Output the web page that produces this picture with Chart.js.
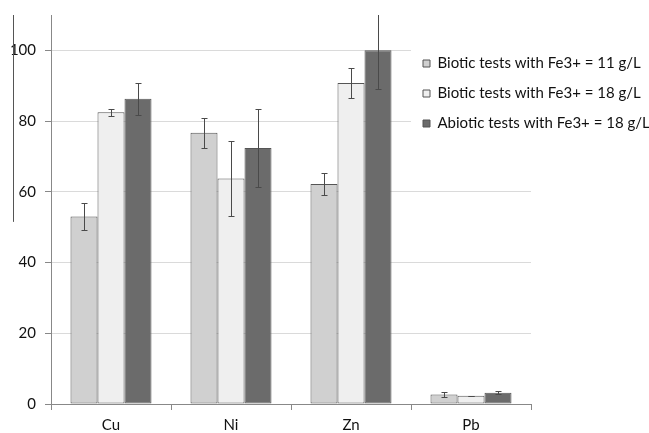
<!DOCTYPE html>
<html>
<head>
<meta charset="utf-8">
<script src="https://cdn.jsdelivr.net/npm/chart.js@4/dist/chart.umd.min.js"></script>
<style>
  html, body { margin: 0; padding: 0; background: #fff; }
  #wrap { position: relative; width: 649px; height: 433px; }
</style>
</head>
<body>
<div id="wrap"><canvas id="chart" width="649" height="433"></canvas></div>
<script>
  "use strict";

  const categories = ["Cu", "Ni", "Zn", "Pb"];
  const seriesLabels = [
    "Biotic tests with Fe3+ = 11 g/L",
    "Biotic tests with Fe3+ = 18 g/L",
    "Abiotic tests with Fe3+ = 18 g/L"
  ];
  const biotic11 = [53.0, 76.7, 62.2, 2.7];
  const biotic11Err = [3.8, 4.2, 3.2, 0.7];
  const biotic18 = [82.5, 63.8, 90.8, 2.3];
  const biotic18Err = [1.0, 10.7, 4.2, 0.1];
  const abiotic18 = [86.3, 72.4, 100.0, 3.2];
  const abiotic18Err = [4.6, 10.9, 11.0, 0.45];
  const yTicks = [0, 20, 40, 60, 80, 100];
  const yMax = 110;

  const fills = ["#d0d0d0", "#efefef", "#6b6b6b"];
  const errors = [biotic11Err, biotic18Err, abiotic18Err];
  const font = "Lato, 'Open Sans', sans-serif";

  // error bars drawn on top of the bars, clipped to the plot
  const errorBars = {
    id: "errorBars",
    afterDatasetsDraw(chart) {
      const { ctx, chartArea } = chart;
      const y = chart.scales.y;
      ctx.save();
      ctx.beginPath();
      ctx.rect(chartArea.left, chartArea.top, chartArea.right - chartArea.left, chartArea.bottom - chartArea.top);
      ctx.clip();
      ctx.strokeStyle = "#4a4a4a";
      ctx.lineWidth = 1;
      chart.data.datasets.forEach((ds, di) => {
        const meta = chart.getDatasetMeta(di);
        meta.data.forEach((bar, i) => {
          const err = errors[di][i];
          const x = Math.round(bar.x) + 0.5;
          const top = Math.round(y.getPixelForValue(ds.data[i] + err)) + 0.5;
          const bottom = Math.round(y.getPixelForValue(ds.data[i] - err)) + 0.5;
          ctx.beginPath();
          ctx.moveTo(x, top); ctx.lineTo(x, bottom);
          ctx.moveTo(x - 3, top); ctx.lineTo(x + 3, top);
          ctx.moveTo(x - 3, bottom); ctx.lineTo(x + 3, bottom);
          ctx.stroke();
        });
      });
      ctx.restore();
    }
  };

  // legend sits over the top right of the plot, on a white box
  const legendBox = {
    id: "legendBox",
    afterLayout(chart) {
      const lg = chart.legend;
      const w = lg.width, h = lg.height;
      lg.left = 408; lg.top = 41;
      lg.right = lg.left + w; lg.bottom = lg.top + h;
    },
    afterDraw(chart) {
      const { ctx } = chart;
      const lg = chart.legend;
      const boxH = lg.columnSizes[0].height + 10;
      ctx.save();
      ctx.fillStyle = "#fff";
      ctx.fillRect(lg.left + 3, lg.top, chart.width - lg.left, boxH);
      // stray rule left of the axis, as in the scan
      const y = chart.scales.y;
      ctx.strokeStyle = "#555";
      ctx.beginPath();
      ctx.moveTo(13.5, y.getPixelForValue(yMax));
      ctx.lineTo(13.5, y.getPixelForValue(51.5));
      ctx.stroke();
      ctx.restore();
      lg.draw();
    }
  };

  new Chart(document.getElementById("chart"), {
    type: "bar",
    data: {
      labels: categories,
      datasets: [biotic11, biotic18, abiotic18].map((data, i) => ({
        label: seriesLabels[i],
        data,
        backgroundColor: fills[i],
        borderColor: "#555",
        borderWidth: 1,
        borderSkipped: false,
        categoryPercentage: 0.675,
        barPercentage: 1.0
      }))
    },
    options: {
      responsive: false,
      animation: false,
      events: [],
      layout: { padding: { top: 15, left: 0, right: 118, bottom: 0 } },
      plugins: {
        tooltip: { enabled: false },
        legend: {
          position: "chartArea",
          align: "start",
          labels: {
            boxWidth: 7,
            boxHeight: 7,
            padding: 15,
            color: "#111",
            font: { family: font, size: 15 }
          }
        }
      },
      scales: {
        x: {
          offset: true,
          grid: { display: true, offset: true, drawOnChartArea: false, tickLength: 6, tickColor: "#888" },
          border: { color: "#888" },
          ticks: { color: "#111", padding: 6, font: { family: font, size: 15 } },
          afterFit(scale) { scale.height = 29; }
        },
        y: {
          min: 0,
          max: yMax,
          grid: { color: "#dadada", tickColor: "#888", tickLength: 6 },
          border: { color: "#888" },
          ticks: { color: "#111", padding: 9, font: { family: font, size: 15 } },
          afterBuildTicks(axis) { axis.ticks = yTicks.map(value => ({ value })); },
          afterFit(scale) {
            scale.width = 51;
            scale.paddingTop = 0;
            scale.paddingBottom = 0;
          }
        }
      }
    },
    plugins: [errorBars, legendBox]
  });
</script>
</body>
</html>
